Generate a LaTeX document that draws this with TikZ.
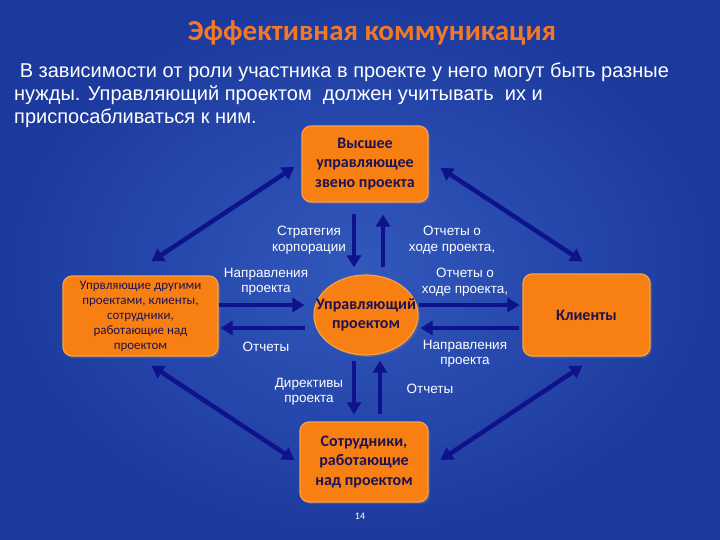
\documentclass[tikz,border=0pt]{standalone}
\usepackage{fontspec}
\setmainfont{Liberation Sans}
\newfontfamily\calfont{Carlito}
\usepackage{tikz}
\usetikzlibrary{shapes,arrows.meta,positioning,calc,shadows}

\definecolor{bgin}{RGB}{50,88,188}
\definecolor{bgout}{RGB}{28,58,158}
\definecolor{boxfill}{RGB}{248,128,18}
\definecolor{boxrim}{RGB}{250,160,70}
\definecolor{ink}{RGB}{30,18,80}
\definecolor{navy}{RGB}{14,18,140}
\definecolor{titleor}{RGB}{240,120,40}

\tikzset{
  box/.style={draw=boxrim, line width=1.2pt, fill=boxfill, rounded corners=9pt,
    align=center, text=ink, font=\calfont\bfseries\fontsize{16}{19.5}\selectfont,
    drop shadow={opacity=0.35, shadow xshift=2pt, shadow yshift=-2pt}},
  lbl/.style={text=white, align=center, font=\fontsize{13.5}{15.5}\selectfont},
  arr/.style={draw=navy, line width=4.5pt, -{Triangle[length=12pt,width=14pt]}},
  dbl/.style={draw=navy, line width=4.5pt, {Triangle[length=12pt,width=14pt]}-{Triangle[length=12pt,width=14pt]}}
}

\begin{document}
\begin{tikzpicture}[x=1pt,y=-1pt]
  \useasboundingbox (0,0) rectangle (720,540);
  \shade[inner color=bgin, outer color=bgout] (0,0) rectangle (720,540);

  % title and intro
  \node[text=titleor, font=\calfont\bfseries\fontsize{29}{34}\selectfont] (title) at (372,33) {Эффективная коммуникация};
  \node[text=white, anchor=north west, align=left, font=\fontsize{20}{23}\selectfont, inner sep=0pt] (intro) at (14,63)
    {\ В зависимости от роли участника в проекте у него могут быть разные\\
     нужды. Управляющий проектом \ должен учитывать \ их и\\
     приспосабливаться к ним.};

  % boxes
  \node[box, minimum width=126pt, minimum height=76pt] (top) at (365,164) {Высшее\\управляющее\\звено проекта};
  \node[box, minimum width=155pt, minimum height=80pt, font=\calfont\fontsize{13}{15}\selectfont] (left) at (140.5,316)
    {Упрвляющие другими\\проектами, клиенты,\\сотрудники,\\работающие над\\проектом};
  \node[box, minimum width=127pt, minimum height=82pt] (right) at (586.5,315) {Клиенты};
  \node[box, minimum width=128pt, minimum height=80pt] (bot) at (364,462) {Сотрудники,\\работающие\\над проектом};
  \node[box, ellipse, minimum width=104pt, minimum height=80pt, inner sep=0pt,
    label={[text=ink, align=center, font=\calfont\bfseries\fontsize{16}{19.5}\selectfont]center:Управляющий\\проектом}] (mgr) at (366,315) {};

  % arrows to and from the manager
  \draw[arr, shorten >=7pt] ([xshift=-11pt,yshift=-11pt]top.south) -- ([xshift=-11pt]top.south |- mgr.north);
  \draw[arr, shorten <=7pt] ([xshift=18pt]top.south |- mgr.north) -- ([xshift=18pt,yshift=-12pt]top.south);
  \draw[arr, shorten >=9pt] ([yshift=11pt]left.east) -- ([yshift=11pt]left.east -| mgr.west);
  \draw[arr, shorten <=8pt, shorten >=2pt] ([yshift=-12pt]left.east -| mgr.west) -- ([yshift=-12pt]left.east);
  \draw[arr, shorten >=3pt] ([yshift=10pt]mgr.east) -- ([yshift=10pt]mgr.east -| right.west);
  \draw[arr, shorten <=3pt, shorten >=2pt] ([yshift=-13pt]mgr.east -| right.west) -- ([yshift=-13pt]mgr.east);
  \draw[arr, shorten >=7pt] ([xshift=-12pt,yshift=-5pt]mgr.south) -- ([xshift=-12pt]mgr.south |- bot.north);
  \draw[arr, shorten <=7pt] ([xshift=14pt]mgr.south |- bot.north) -- ([xshift=14pt,yshift=-5pt]mgr.south);

  % corner links
  \draw[dbl] ([xshift=11pt,yshift=14pt]left.north) -- ([xshift=-7pt,yshift=-3pt]top.west);
  \draw[dbl] ([xshift=12pt,yshift=-4pt]top.east) -- ([xshift=-4pt,yshift=12pt]right.north);
  \draw[dbl] ([xshift=11pt,yshift=-9pt]left.south) -- ([xshift=-5pt,yshift=2pt]bot.west);
  \draw[dbl] ([xshift=12pt,yshift=2pt]bot.east) -- ([xshift=-4pt,yshift=-9pt]right.south);

  % labels
  \node[lbl] (l1) at (309,240) {Стратегия\\корпорации};
  \node[lbl] (l2) at (452,240) {Отчеты о\\ходе проекта,};
  \node[lbl] (l3) at (266,282) {Направления\\проекта};
  \node[lbl] (l4) at (465,282) {Отчеты о\\ходе проекта,};
  \node[lbl] (l5) at (266,347) {Отчеты};
  \node[lbl] (l6) at (465,354) {Направления\\проекта};
  \node[lbl] (l7) at (309,392) {Директивы\\проекта};
  \node[lbl] (l8) at (430,389) {Отчеты};
  \node[text=white, font=\calfont\fontsize{10}{12}\selectfont] (page) at (360,516) {14};
\end{tikzpicture}
\end{document}
